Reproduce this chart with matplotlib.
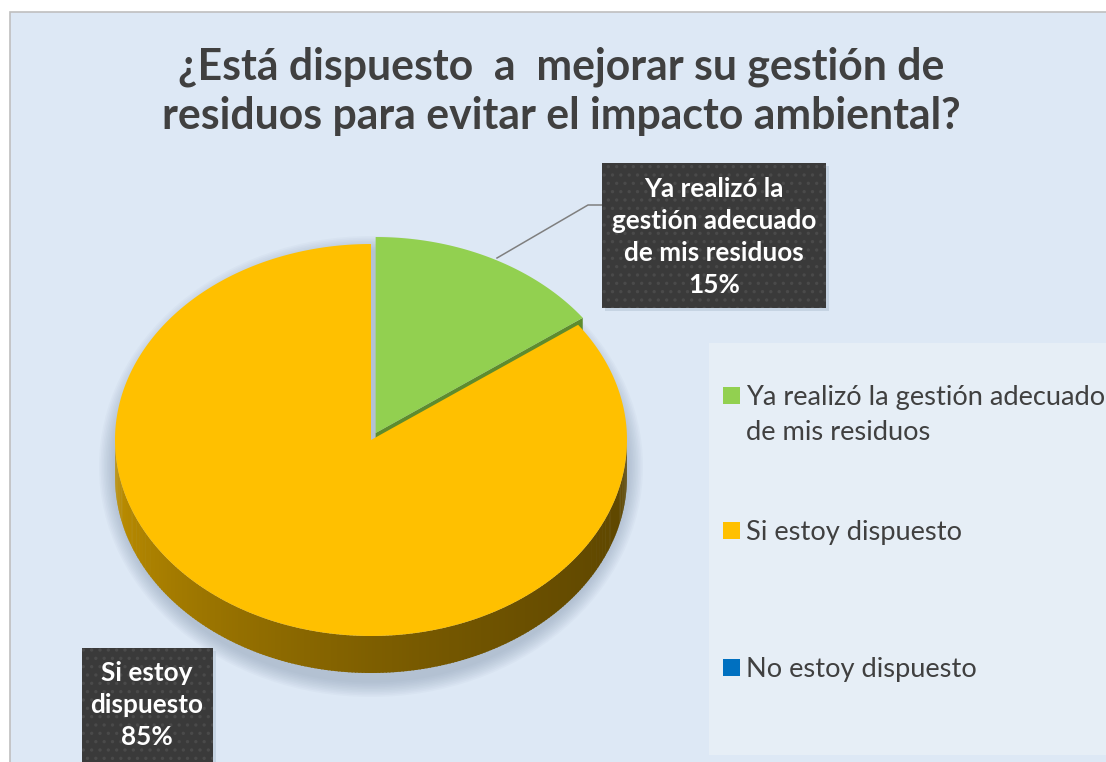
import numpy as np
import matplotlib
matplotlib.use("Agg")
import matplotlib.pyplot as plt
from matplotlib.patches import Polygon, Rectangle, Ellipse
from matplotlib.colors import to_rgb

categories = ['Ya realizó la gestión adecuado de mis residuos', 'Si estoy dispuesto', 'No estoy dispuesto']
values = [15, 85, 0]
colors = ['#92D050', '#FFC000', '#0070C0']
side_colors = [('#7FB343', '#5E8C2E'), ('#C29200', '#5F4700'), ('#005A9A', '#003A66')]
box_labels = ['Ya realizó la\ngestión adecuado\nde mis residuos\n15%', 'Si estoy\ndispuesto\n85%', None]
legend_lines = [['Ya realizó la gestión adecuado', 'de mis residuos'], ['Si estoy dispuesto'], ['No estoy dispuesto']]
title = '¿Está dispuesto  a  mejorar su gestión de\nresiduos para evitar el impacto ambiental?'

plt.rcParams['font.family'] = ['Lato', 'DejaVu Sans']
plt.rcParams['hatch.linewidth'] = 1.2

W, H = 1106, 762
fig = plt.figure(figsize=(W / 100, H / 100), dpi=100)
fig.patch.set_facecolor('white')
ax = fig.add_axes([0, 0, 1, 1])
ax.set_xlim(0, W)
ax.set_ylim(H, 0)
ax.axis('off')

# chart area
ax.add_patch(Rectangle((10, 12), W, H, facecolor='#DDE8F5', edgecolor='#BFBFBF', lw=1.2, zorder=0))
ax.add_patch(Rectangle((709, 343), 420, 412, facecolor='#E6EEF6', edgecolor='none', zorder=1))

ax.text(561, 91, title, ha='center', va='center', fontsize=30.8, fontweight='bold',
        color='#404040', linespacing=1.28, zorder=5)

# pie geometry (pixels)
cx, cy, rx, ry, depth = 371, 440, 256, 196, 37
explode = [0.04, 0, 0]

# soft shadow
for k in range(10):
    ax.add_patch(Ellipse((cx, cy + depth / 2 + 8), 2 * (rx + 16 - k * 1.6), 2 * (ry + depth / 2 + 16 - k * 1.6),
                         facecolor='#7F93A8', edgecolor='none', alpha=0.05, zorder=2))


def mix(c1, c2, t):
    a, b = np.array(to_rgb(c1)), np.array(to_rgb(c2))
    return tuple(a + (b - a) * t)


total = sum(values)
start = 90.0
slices = []
for i, v in enumerate(values):
    sweep = 360.0 * v / total
    t0, t1 = start - sweep, start
    start = t0
    mid = np.radians((t0 + t1) / 2)
    ox = explode[i] * rx * np.cos(mid)
    oy = -explode[i] * ry * np.sin(mid)
    slices.append((t0, t1, ox, oy))

# outer side walls
for i, (t0, t1, ox, oy) in enumerate(slices):
    if values[i] == 0:
        continue
    th = np.linspace(t0, t1, 400)
    for a, b in zip(th[:-1], th[1:]):
        m = np.radians((a + b) / 2)
        if np.sin(m) >= 0:
            continue
        ra, rb = np.radians(a), np.radians(b + 0.3)
        xa, xb = cx + ox + rx * np.cos(ra), cx + ox + rx * np.cos(rb)
        ya, yb = cy + oy - ry * np.sin(ra), cy + oy - ry * np.sin(rb)
        t = ((np.cos(m) + 1) / 2) ** 0.55
        ax.add_patch(Polygon([(xa, ya), (xb, yb), (xb, yb + depth), (xa, ya + depth)], closed=True,
                             facecolor=mix(side_colors[i][0], side_colors[i][1], t), edgecolor='none', zorder=3))

# radial side of exploded slice
for i, (t0, t1, ox, oy) in enumerate(slices):
    if explode[i] == 0 or values[i] == 0:
        continue
    r0 = np.radians(t0)
    px, py = cx + ox, cy + oy
    qx, qy = px + rx * np.cos(r0), py - ry * np.sin(r0)
    ax.add_patch(Polygon([(px, py), (qx, qy), (qx, qy + depth), (px, py + depth)], closed=True,
                         facecolor=side_colors[i][1], edgecolor='none', zorder=3.5))

# top faces
for i, (t0, t1, ox, oy) in enumerate(slices):
    if values[i] == 0:
        continue
    th = np.radians(np.linspace(t0, t1, 300))
    pts = [(cx + ox, cy + oy)] + list(zip(cx + ox + rx * np.cos(th), cy + oy - ry * np.sin(th)))
    ax.add_patch(Polygon(pts, closed=True, facecolor=colors[i], edgecolor='none', zorder=4))

# leader line
ax.plot([497, 588, 602], [258, 205, 205], color='#7F7F7F', lw=1.1, zorder=4.5)

# data label boxes
boxes = [(602, 163, 224, 145), (82, 648, 131, 130)]
centers = [(714, 237), (147, 705)]
for (bx, by, bw, bh), (tx, ty), lab in zip(boxes, centers, box_labels):
    ax.add_patch(Rectangle((bx + 3, by + 3), bw, bh, facecolor='#B8C8D8', edgecolor='none', alpha=0.6, zorder=5))
    ax.add_patch(Rectangle((bx, by), bw, bh, facecolor='#3A3A3A', edgecolor='#4A4A4A', hatch='..', lw=0, zorder=5.5))
    ax.text(tx, ty, lab, ha='center', va='center', fontsize=18.8, fontweight='bold', color='white',
            linespacing=1.4, zorder=6)

# legend
leg_base = [405, 540, 677]
for c, lines, yb in zip(colors, legend_lines, leg_base):
    ax.add_patch(Rectangle((723, yb - 18.5), 17, 17, facecolor=c, edgecolor='none', zorder=5))
    for j, line in enumerate(lines):
        ax.text(746, yb + 35 * j, line, ha='left', va='baseline', fontsize=19.6, color='#404040', zorder=5)

fig.savefig('out.png', dpi=100, facecolor='white')
